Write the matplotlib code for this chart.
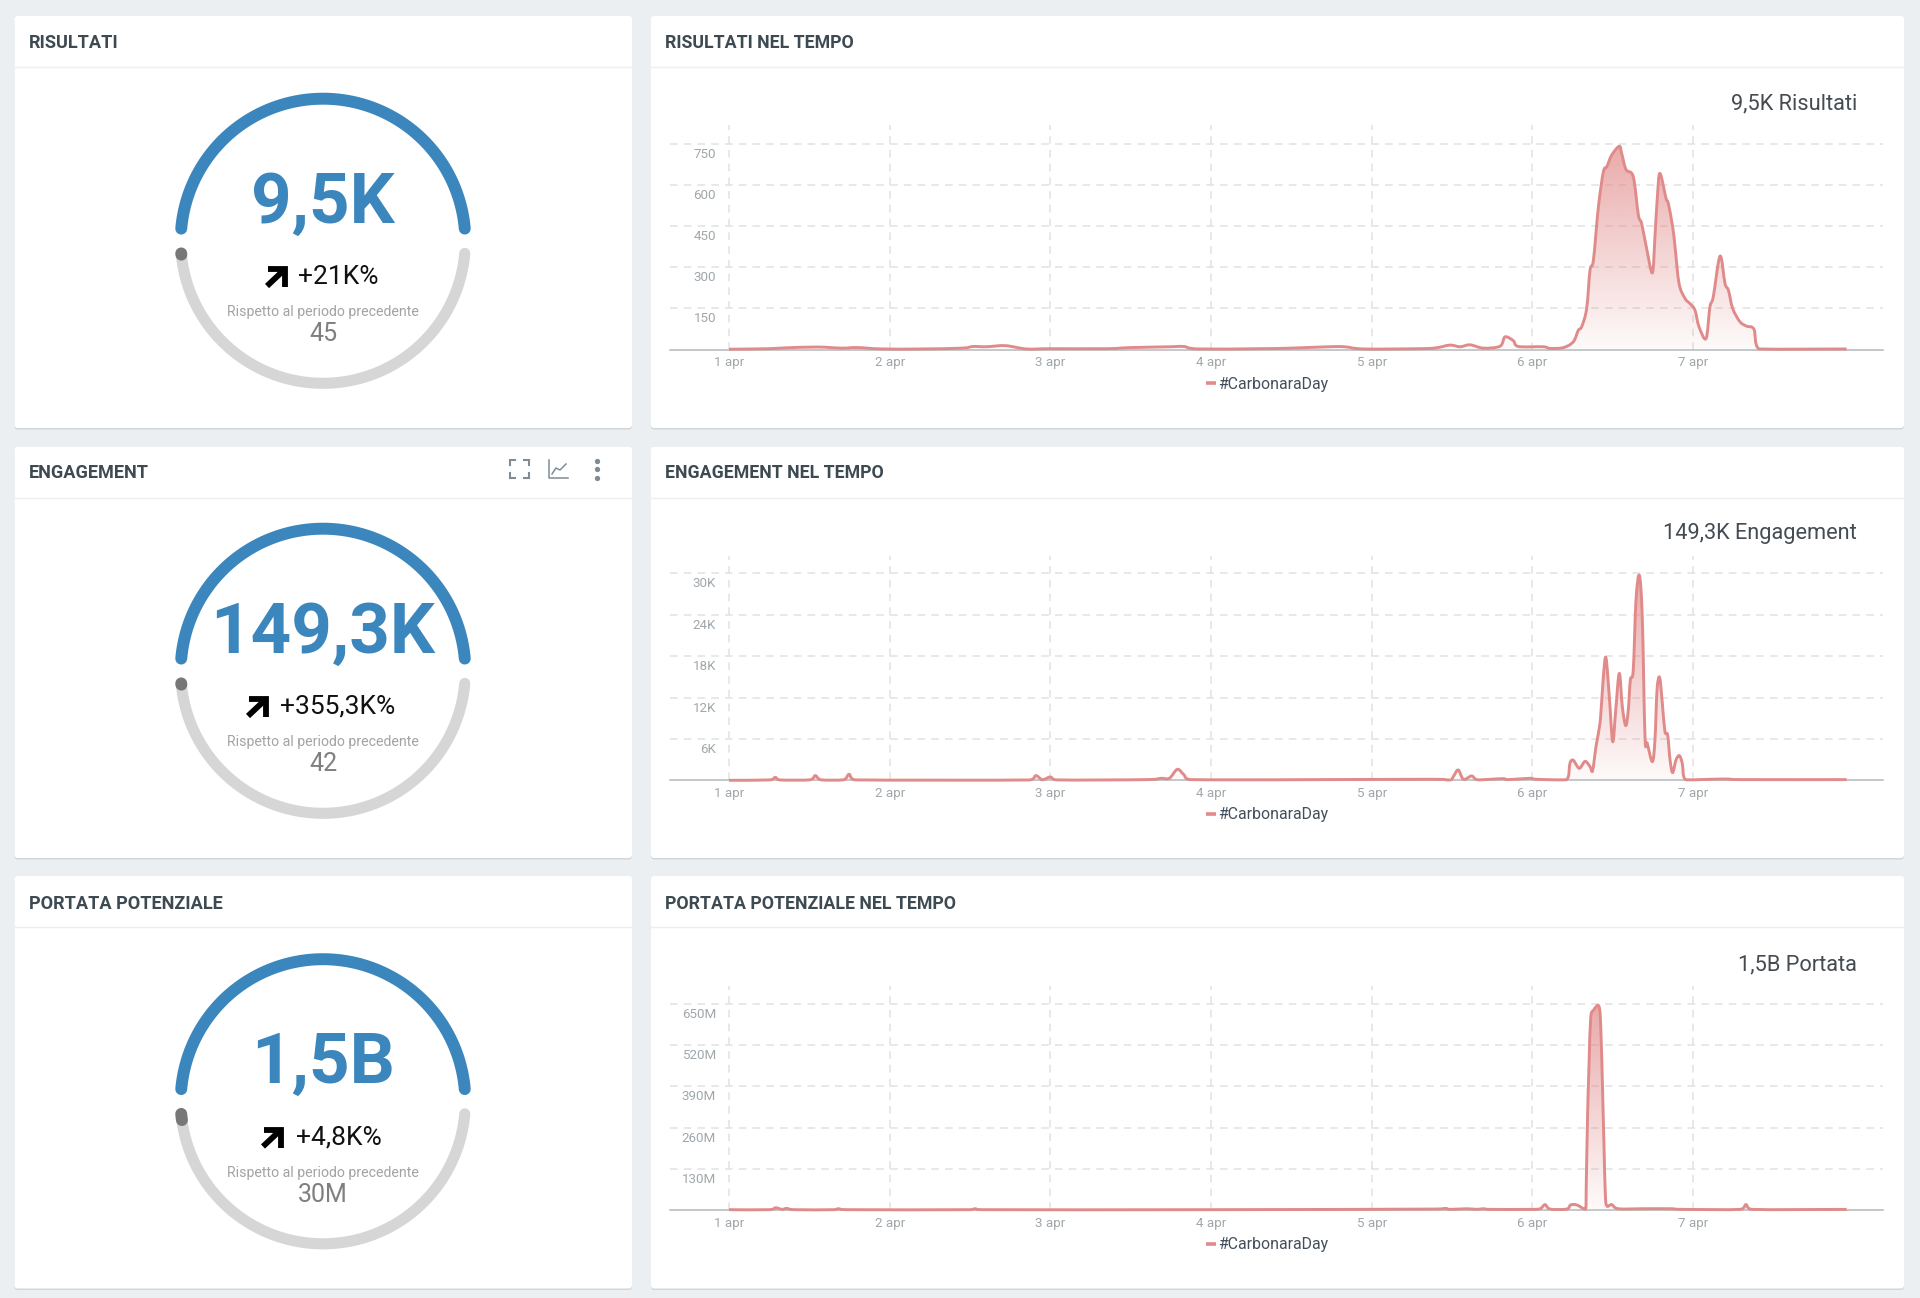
import numpy as np
from matplotlib import pyplot as plt
from matplotlib.patches import FancyBboxPatch, PathPatch
from matplotlib.path import Path

plt.rcParams['font.family'] = ['Roboto', 'DejaVu Sans']

# data, x is days since 1 apr
day_labels = ['1 apr', '2 apr', '3 apr', '4 apr', '5 apr', '6 apr', '7 apr']
series_name = '#CarbonaraDay'

res_days = [0, .25, .35, .55, .7, .8, .95, 1.2, 1.45, 1.52, 1.6, 1.72, 1.85, 2.0, 2.35, 2.5, 2.75, 2.83, 2.92,
            3.3, 3.5, 3.73, 3.83, 3.95, 4.3, 4.4, 4.487, 4.549, 4.611, 4.694, 4.798, 4.829, 4.881, 4.912,
            5.067, 5.109, 5.192, 5.254, 5.285, 5.306, 5.337, 5.358, 5.379, 5.41, 5.441, 5.462, 5.493, 5.54,
            5.555, 5.582, 5.627, 5.659, 5.679, 5.71, 5.746, 5.762, 5.777, 5.793, 5.831, 5.845, 5.872, 5.887,
            5.912, 5.949, 5.98, 6.011, 6.036, 6.08, 6.104, 6.125, 6.167, 6.198, 6.219, 6.246, 6.291, 6.333,
            6.378, 6.409, 6.955]
res_vals = [1, 3, 6, 9, 5, 7, 2, 2, 5, 11, 10, 14, 2, 3, 3, 7, 10, 11, 2,
            3, 5, 10, 10, 2, 3, 6, 16, 10, 17, 5, 12, 46, 32, 11,
            10, 4, 7, 28, 70, 83, 149, 289, 325, 519, 647, 665, 708, 740,
            714, 655, 629, 489, 459, 368, 279, 410, 556, 641, 550, 532, 447, 374,
            240, 186, 167, 143, 83, 40, 155, 192, 340, 240, 216, 149, 101, 85,
            74, 2, 2]

eng_days = [0, .25, .288, .32, .5, .537, .575, .71, .747, .785, 1.87, 1.91, 1.95, 2.0, 2.04, 2.6, 2.69, 2.74,
            2.79, 2.83, 2.87, 4.38, 4.487, 4.507, 4.538, 4.57, 4.621, 4.653, 4.736, 4.818, 4.85, 4.984, 5.026,
            5.213, 5.233, 5.254, 5.291, 5.327, 5.358, 5.374, 5.395, 5.41, 5.424, 5.441, 5.457, 5.478, 5.499,
            5.518, 5.54, 5.559, 5.58, 5.596, 5.609, 5.627, 5.644, 5.665, 5.683, 5.7, 5.714, 5.746, 5.762,
            5.775, 5.791, 5.808, 5.824, 5.841, 5.856, 5.872, 5.893, 5.914, 5.932, 5.951, 6.104, 6.208, 6.291,
            6.955]
eng_vals = [0, 50, 430, 50, 60, 680, 60, 60, 870, 60, 50, 680, 80, 480, 60, 100, 290, 290,
            1590, 820, 100, 150, 50, 530, 1500, 145, 630, 100, 145, 240, 100, 290, 145,
            100, 2460, 2900, 1740, 2750, 1980, 1400, 4880, 6810, 9225, 15020, 17770, 12120, 5600,
            10190, 15500, 10670, 7920, 10190, 14540, 15990, 26130, 29700, 23700, 6330, 5360, 2700, 5840,
            13090, 14920, 11160, 7050, 6570, 2950, 1110, 2950, 3570, 2460, 100, 145, 190, 100,
            100]

por_days = [0, .25, .29, .33, .36, .41, .65, .68, .73, 1.5, 1.53, 1.57, 3.0, 4.4, 4.46, 4.487, 4.59, 4.653,
            4.694, 4.736, 4.984, 5.047, 5.078, 5.109, 5.213, 5.237, 5.275, 5.331, 5.335, 5.343, 5.352, 5.362,
            5.379, 5.414, 5.426, 5.437, 5.445, 5.453, 5.462, 5.493, 5.534, 5.69, 5.856, 5.939, 6.291, 6.328,
            6.364, 6.955]
por_vals = [1, 1, 7, 2, 5, 1, 1, 4, 1, 1, 4, 1, 1, 3, 5, 2, 4, 2,
            4, 2, 2, 4, 17, 3, 3, 16, 16, 3, 95, 305, 463, 605,
            630, 642, 560, 358, 200, 53, 13, 17, 4, 4, 4, 2, 2, 17,
            2, 2]

res_ticks = [150, 300, 450, 600, 750]
res_tick_labels = ['150', '300', '450', '600', '750']
eng_ticks = [6000, 12000, 18000, 24000, 30000]
eng_tick_labels = ['6K', '12K', '18K', '24K', '30K']
por_ticks = [130, 260, 390, 520, 650]
por_tick_labels = ['130M', '260M', '390M', '520M', '650M']

left_titles = ['RISULTATI', 'ENGAGEMENT', 'PORTATA POTENZIALE']
right_titles = ['RISULTATI NEL TEMPO', 'ENGAGEMENT NEL TEMPO', 'PORTATA POTENZIALE NEL TEMPO']
totals = ['9,5K', '149,3K', '1,5B']
summaries = ['9,5K Risultati', '149,3K Engagement', '1,5B Portata']
changes = ['+21K%', '+355,3K%', '+4,8K%']
previous = ['45', '42', '30M']

W, H = 1920, 1298
BG = '#ebeff2'
BLUE = '#3b87bd'
LINE = '#e08a8a'
card_tops = [16, 447, 876]
row_tops = [16, 446, 876.5]
base_y = [349.5, 780.3, 1210]
arrow_left = [265, 246, 261]
change_x = [298, 280, 296]

fig = plt.figure(figsize=(W / 100, H / 100), dpi=100, facecolor=BG)
bg = fig.add_axes([0, 0, 1, 1])
bg.set_xlim(0, W)
bg.set_ylim(H, 0)
bg.axis('off')


def card(x0, x1, y0, y1):
    shadow = FancyBboxPatch((x0, y0 + 1.5), x1 - x0, y1 - y0, boxstyle='round,pad=0,rounding_size=3',
                            fc='#d3d6d9', ec='none')
    face = FancyBboxPatch((x0, y0), x1 - x0, y1 - y0, boxstyle='round,pad=0,rounding_size=3',
                          fc='white', ec='none')
    bg.add_patch(shadow)
    bg.add_patch(face)
    bg.plot([x0, x1], [y0 + 50.5, y0 + 50.5], color='#eceef0', lw=1)


def arc(cx, cy, r, a0, a1, color, lw):
    t = np.radians(np.linspace(a0, a1, 120))
    bg.plot(cx + r * np.cos(t), cy - r * np.sin(t), color=color, lw=lw, solid_capstyle='round')


def gauge(i):
    top = row_tops[i]
    cx, cy = 323, top + 225
    r = 142.3
    arc(cx, cy, r, 175, 5, BLUE, 8.6)
    arc(cx, cy, r, 185, 355, '#d6d6d6', 8)
    arc(cx, cy, r, 185, 187.5 if i == 2 else 185.5, '#777777', 8.6)
    bg.text(cx, top + 187, totals[i], color=BLUE, fontsize=51, fontweight='bold', ha='center', va='center')
    x = arrow_left[i]
    y = top + 250
    bg.plot([x + 3, x + 20, x + 20], [y + 3, y + 3, y + 21], color='black', lw=4.2,
            solid_joinstyle='miter', solid_capstyle='butt')
    bg.plot([x + 2, x + 19], [y + 20, y + 4], color='black', lw=4.2, solid_capstyle='butt')
    bg.text(change_x[i], top + 260.5, changes[i], color='#111111', fontsize=19, ha='left', va='center')
    bg.text(cx, top + 296, 'Rispetto al periodo precedente', color='#a3a3a3', fontsize=10.2,
            ha='center', va='center')
    bg.text(cx, top + 318, previous[i], color='#7f7f7f', fontsize=18, ha='center', va='center')


def curve_path(xs, ys):
    # soft curve through the read points, the way the original chart draws them
    x = np.array(xs, dtype=float)
    y = np.array(ys, dtype=float)
    verts = [(x[0], y[0])]
    codes = [Path.MOVETO]
    for k in range(len(x) - 1):
        a = max(k - 1, 0)
        b = min(k + 2, len(x) - 1)
        c1x = min(x[k] + (x[k + 1] - x[a]) / 6, x[k + 1])
        c1y = max(y[k] + (y[k + 1] - y[a]) / 6, 0)
        c2x = max(x[k + 1] - (x[b] - x[k]) / 6, x[k])
        c2y = max(y[k + 1] - (y[b] - y[k]) / 6, 0)
        verts += [(c1x, c1y), (c2x, c2y), (x[k + 1], y[k + 1])]
        codes += [Path.CURVE4, Path.CURVE4, Path.CURVE4]
    return verts, codes


def line_chart(i, days, vals, ticks, tick_labels, tick_px):
    y0 = base_y[i]
    top_px = y0 - 224.5
    ax = fig.add_axes([670 / W, 1 - y0 / H, (1883 - 670) / W, 224.5 / H], facecolor='none')
    per_px = ticks[-1] / (5 * tick_px)
    for s in ['top', 'left', 'right']:
        ax.spines[s].set_visible(False)
    ax.spines['bottom'].set_color('#b4b9bc')
    ax.spines['bottom'].set_linewidth(1.1)
    ax.set_xticks(range(len(day_labels)))
    ax.set_xticklabels(day_labels, color='#a0a7ab', fontsize=9.6)
    ax.tick_params(axis='x', length=0, pad=4.8)
    ax.set_yticks(ticks)
    ax.set_yticklabels([])
    ax.tick_params(axis='y', length=0)
    ax.grid(True, color='#e2e2e2', lw=1.1, linestyle=(0, (5, 4)))
    ax.set_axisbelow(True)
    for t, lab in zip(ticks, tick_labels):
        ax.annotate(lab, xy=(0, t), xytext=(-13, -10.5), textcoords='offset pixels', ha='right', va='center',
                    color='#a0a7ab', fontsize=9.6)

    verts, codes = curve_path(days, vals)
    closed = Path(verts + [(days[-1], 0), (days[0], 0), (days[0], vals[0])],
                  codes + [Path.LINETO, Path.LINETO, Path.LINETO])
    grad = np.zeros((256, 1, 4))
    grad[:, :, 0] = 224 / 255
    grad[:, :, 1] = 130 / 255
    grad[:, :, 2] = 130 / 255
    grad[:, 0, 3] = np.linspace(0.68, 0.04, 256)
    img = ax.imshow(grad, extent=(days[0], days[-1], 0, max(vals)), aspect='auto', origin='upper', zorder=2)
    img.set_clip_path(closed, transform=ax.transData)
    ax.add_patch(PathPatch(Path(verts, codes), fill=False, edgecolor=LINE, lw=2.1, zorder=3, clip_on=False,
                           joinstyle='round', capstyle='butt'))
    ax.set_xlim((670 - 729) / 160.7, (1883 - 729) / 160.7)
    ax.set_ylim(0, (y0 - top_px) * per_px)

    bg.plot([1206, 1216], [y0 + 33.5, y0 + 33.5], color=LINE, lw=2.6, solid_capstyle='butt')
    bg.text(1218, y0 + 34.5, series_name, color='#434f5c', fontsize=11.4, ha='left', va='center')


for i in range(3):
    top = card_tops[i]
    bottom = row_tops[i] + 412
    card(14.5, 632, top, bottom)
    card(651, 1904, top, bottom)
    text_y = row_tops[i] + 27.5
    bg.text(29, text_y, left_titles[i], color='#3e4a52', fontsize=13.1, fontweight='bold', va='center')
    bg.text(665, text_y, right_titles[i], color='#3e4a52', fontsize=12.8, fontweight='bold', va='center')
    bg.text(1857, row_tops[i] + 88, summaries[i], color='#444c52', fontsize=15.7, ha='right', va='center')
    gauge(i)

# little icons on the engagement card
icon = '#7f8c95'
for xs, ys in [([510, 510, 515], [465, 460, 460]), ([524, 529, 529], [460, 460, 465]),
               ([510, 510, 515], [473, 478, 478]), ([524, 529, 529], [478, 478, 473])]:
    bg.plot(xs, ys, color=icon, lw=1.5, solid_joinstyle='miter')
bg.plot([549, 549, 568], [460, 478, 478], color=icon, lw=1.1)
bg.plot([552, 556, 560, 566], [474, 468, 470, 464], color=icon, lw=1.1)
bg.plot([597, 597, 597], [461, 469, 478], 'o', color=icon, ms=2.8)

line_chart(0, res_days, res_vals, res_ticks, res_tick_labels, 41.2)
line_chart(1, eng_days, eng_vals, eng_ticks, eng_tick_labels, 41.4)
line_chart(2, por_days, por_vals, por_ticks, por_tick_labels, 41.2)

fig.savefig('out.png', dpi=100, facecolor=BG)
